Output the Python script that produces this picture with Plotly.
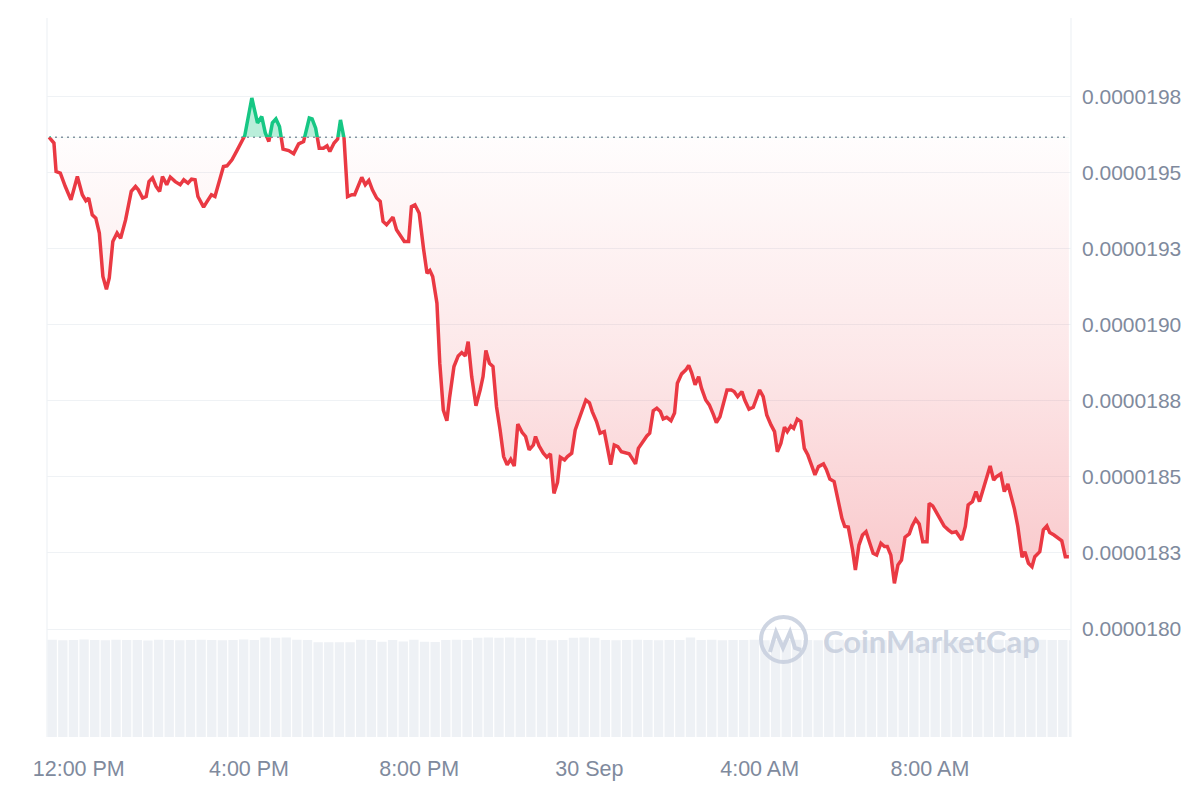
import pandas as pd
import plotly.graph_objects as go

# ---------------- data ----------------
# time of each price sample, in minutes after 12:00 PM on 29 Sep
minutes_after_noon = [
    -42, -35, -32, -26, -19, -11, -2, 5, 10, 14,
    19, 24, 29, 34, 39, 43, 48, 54, 59, 66,
    74, 80, 84, 90, 95, 99, 104, 109, 114, 118,
    124, 129, 136, 143, 148, 154, 159, 164, 168, 176,
    181, 187, 192, 198, 204, 209, 216, 223, 230, 234,
    244, 252, 258, 263, 268, 273, 278, 283, 288, 296,
    303, 310, 317, 325, 329, 334, 339, 345, 350, 354,
    360, 365, 369, 374, 379, 385, 389, 394, 399, 404,
    409, 414, 420, 425, 429, 434, 443, 448, 453, 459,
    465, 469, 474, 480, 486, 491, 495, 499, 505, 509,
    514, 519, 523, 529, 535, 540, 545, 549, 554, 560,
    566, 570, 574, 579, 584, 589, 594, 599, 604, 609,
    614, 619, 625, 630, 635, 641, 644, 649, 655, 660,
    665, 670, 675, 679, 685, 689, 695, 700, 705, 709,
    715, 720, 724, 730, 735, 741, 745, 750, 755, 760,
    765, 771, 776, 780, 785, 789, 795, 801, 805, 810,
    815, 820, 824, 829, 835, 840, 844, 850, 856, 860,
    864, 869, 874, 878, 884, 889, 895, 899, 904, 909,
    914, 920, 924, 929, 935, 939, 945, 951, 956, 960,
    965, 970, 976, 981, 985, 990, 995, 999, 1004, 1008,
    1013, 1018, 1023, 1028, 1033, 1038, 1043, 1050, 1054, 1059,
    1065, 1070, 1076, 1080, 1085, 1091, 1095, 1100, 1105, 1110,
    1115, 1120, 1125, 1131, 1136, 1140, 1145, 1150, 1155, 1160,
    1165, 1171, 1175, 1180, 1185, 1190, 1196, 1199, 1204, 1210,
    1214, 1220, 1226, 1231, 1237, 1240, 1245, 1250, 1254, 1260,
    1265, 1270, 1275, 1280, 1285, 1290, 1294, 1300, 1305, 1310,
    1314, 1319, 1324, 1330, 1334, 1339, 1344, 1348, 1355, 1360,
    1365, 1369, 1375, 1381, 1386, 1391, 1396,
]

# price in micro-USD (x 1e-6)
price_micro_usd = [
    19.617, 19.598, 19.504, 19.499, 19.455, 19.411, 19.488, 19.428, 19.408, 19.417,
    19.362, 19.351, 19.302, 19.159, 19.117, 19.154, 19.274, 19.302, 19.285, 19.345,
    19.439, 19.455, 19.444, 19.417, 19.422, 19.471, 19.483, 19.455, 19.439, 19.488,
    19.461, 19.486, 19.471, 19.461, 19.477, 19.466, 19.479, 19.477, 19.422, 19.387,
    19.406, 19.428, 19.422, 19.477, 19.521, 19.523, 19.543, 19.573, 19.608, 19.622,
    19.746, 19.664, 19.685, 19.631, 19.603, 19.664, 19.677, 19.652, 19.578, 19.573,
    19.563, 19.595, 19.603, 19.680, 19.677, 19.647, 19.581, 19.581, 19.589, 19.570,
    19.598, 19.611, 19.674, 19.614, 19.422, 19.428, 19.428, 19.455, 19.485, 19.461,
    19.475, 19.444, 19.417, 19.406, 19.340, 19.329, 19.354, 19.313, 19.293, 19.274,
    19.274, 19.389, 19.395, 19.367, 19.252, 19.170, 19.179, 19.159, 19.071, 18.874,
    18.720, 18.685, 18.764, 18.863, 18.898, 18.909, 18.898, 18.945, 18.830, 18.734,
    18.786, 18.830, 18.916, 18.874, 18.863, 18.731, 18.655, 18.567, 18.540, 18.558,
    18.536, 18.674, 18.647, 18.633, 18.589, 18.605, 18.633, 18.602, 18.578, 18.565,
    18.576, 18.446, 18.482, 18.565, 18.556, 18.567, 18.578, 18.655, 18.688, 18.715,
    18.753, 18.744, 18.715, 18.682, 18.644, 18.649, 18.600, 18.540, 18.605, 18.600,
    18.583, 18.578, 18.576, 18.562, 18.543, 18.594, 18.616, 18.635, 18.644, 18.718,
    18.726, 18.715, 18.691, 18.696, 18.685, 18.710, 18.808, 18.839, 18.852, 18.867,
    18.843, 18.803, 18.830, 18.792, 18.753, 18.737, 18.704, 18.679, 18.698, 18.748,
    18.786, 18.786, 18.781, 18.764, 18.781, 18.753, 18.723, 18.729, 18.764, 18.786,
    18.764, 18.704, 18.671, 18.649, 18.583, 18.611, 18.664, 18.649, 18.668, 18.660,
    18.690, 18.682, 18.594, 18.572, 18.540, 18.507, 18.534, 18.543, 18.525, 18.493,
    18.485, 18.424, 18.364, 18.337, 18.335, 18.260, 18.194, 18.276, 18.309, 18.320,
    18.282, 18.249, 18.243, 18.282, 18.271, 18.271, 18.243, 18.150, 18.211, 18.227,
    18.302, 18.313, 18.339, 18.361, 18.345, 18.287, 18.287, 18.413, 18.405, 18.381,
    18.364, 18.339, 18.326, 18.317, 18.320, 18.309, 18.293, 18.337, 18.408, 18.419,
    18.452, 18.419, 18.457, 18.503, 18.536, 18.490, 18.501, 18.510, 18.452, 18.477,
    18.441, 18.397, 18.337, 18.236, 18.254, 18.216, 18.205, 18.238, 18.254, 18.326,
    18.339, 18.317, 18.309, 18.298, 18.290, 18.238, 18.238,
]

# 15-minute volume bars (millions, relative), starting 11:15 AM
volume_m = [
    50.1, 49.9, 50.0, 50.2, 50.0, 49.9, 50.1, 50.0, 50.0, 49.8,
    50.1, 50.0, 49.9, 50.0, 50.1, 50.0, 49.9, 50.0, 50.2, 50.0,
    51.3, 51.2, 51.3, 50.1, 50.0, 48.9, 48.8, 48.8, 48.9, 50.1,
    50.0, 49.1, 50.0, 49.2, 50.1, 49.1, 49.0, 50.0, 50.1, 50.0,
    51.2, 51.3, 51.2, 51.3, 51.2, 51.1, 50.0, 49.9, 50.0, 51.2,
    51.3, 51.2, 50.0, 49.9, 50.0, 50.1, 50.0, 49.9, 50.0, 50.0,
    51.3, 50.0, 50.1, 49.9, 50.0, 50.0, 50.1, 49.9, 50.0, 50.0,
    50.1, 50.0, 49.9, 50.0, 50.1, 50.0, 50.0, 49.9, 50.0, 50.1,
    50.0, 49.9, 50.0, 50.0, 50.1, 50.0, 49.9, 50.0, 50.0, 50.1,
    50.0, 49.9, 50.0, 50.1, 50.0, 50.0, 49.9,
]

y_tick_values = [1.800e-5, 1.825e-5, 1.850e-5, 1.875e-5, 1.900e-5, 1.925e-5, 1.950e-5, 1.975e-5]
y_tick_labels = ["0.0000180", "0.0000183", "0.0000185", "0.0000188",
                 "0.0000190", "0.0000193", "0.0000195", "0.0000198"]
x_tick_times = ["2024-09-29 12:00", "2024-09-29 16:00", "2024-09-29 20:00",
                "2024-09-30 00:00", "2024-09-30 04:00", "2024-09-30 08:00"]
x_tick_labels = ["12:00 PM", "4:00 PM", "8:00 PM", "30 Sep", "4:00 AM", "8:00 AM"]

# ---------------- build ----------------
noon = pd.Timestamp("2024-09-29 12:00")
times = list(noon + pd.to_timedelta(minutes_after_noon, unit="min"))
price = [v * 1e-6 for v in price_micro_usd]
base = price[0]
vol_start = pd.Timestamp("2024-09-29 11:22:30")
vol_times = [vol_start + pd.Timedelta(minutes=15 * i) for i in range(len(volume_m))]

x_range = ["2024-09-29 11:15:12", "2024-09-30 11:19:00"]
y_lo, y_hi = 1.7645e-5, 2.0009e-5
f_base = (base - y_lo) / (y_hi - y_lo)

RED = "#ea3943"
GREEN = "#16c784"
TXT = "#808a9d"
GRID = "#eff2f5"
FONT = "Liberation Sans, Arial, sans-serif"

# the page body has an 8px margin: figure is 1192x792 placed at (8, 8)
OFF = 8
PL, PT, PW, PH = 47 - OFF, 18 - OFF, 1024, 719   # plot area in figure pixels
FIG_W, FIG_H = 1192, 792

fig = go.Figure()

# dotted reference line (opening price)
fig.add_trace(go.Scatter(x=[times[0], times[-1]], y=[base, base], mode="lines",
                         line=dict(color="#8a92a5", width=1.7, dash="2px,4px"),
                         hoverinfo="skip", showlegend=False, xaxis="x", yaxis="y"))

# red part (below opening price)
fig.add_trace(go.Scatter(x=[times[0], times[-1]], y=[base, base], mode="lines",
                         line=dict(width=0), hoverinfo="skip", showlegend=False,
                         xaxis="x", yaxis="y3"))
fig.add_trace(go.Scatter(x=times, y=price, mode="lines", fill="tonexty",
                         line=dict(color=RED, width=3.5),
                         fillgradient=dict(type="vertical", start=min(price), stop=base,
                                           colorscale=[[0, "rgba(234,57,67,0.28)"],
                                                       [0.5, "rgba(234,57,67,0.12)"],
                                                       [1, "rgba(234,57,67,0.01)"]]),
                         showlegend=False, xaxis="x", yaxis="y3"))

# green part (above opening price)
fig.add_trace(go.Scatter(x=[times[0], times[-1]], y=[base, base], mode="lines",
                         line=dict(width=0), hoverinfo="skip", showlegend=False,
                         xaxis="x", yaxis="y2"))
fig.add_trace(go.Scatter(x=times, y=price, mode="lines", fill="tonexty",
                         line=dict(color=GREEN, width=3.5),
                         fillcolor="rgba(22,199,132,0.30)",
                         showlegend=False, xaxis="x", yaxis="y2"))

# volume
fig.add_trace(go.Bar(x=vol_times, y=volume_m, marker=dict(color="#eef1f5", line=dict(width=0)),
                     showlegend=False, xaxis="x", yaxis="y4"))


def px(x, y):
    # screen pixel -> paper coordinates
    return (x - 47) / PW, (737 - y) / PH


# watermark logo
c0 = px(761, 662)
c1 = px(806, 617)
wm = "rgba(198,206,221,0.85)"
shapes = [
    dict(type="line", xref="paper", yref="paper", x0=0, x1=0, y0=0, y1=1,
         line=dict(color=GRID, width=1.2)),
    dict(type="line", xref="paper", yref="paper", x0=1, x1=1, y0=0, y1=1,
         line=dict(color=GRID, width=1.2)),
    dict(type="circle", xref="paper", yref="paper", x0=c0[0], y0=c0[1], x1=c1[0], y1=c1[1],
         line=dict(color=wm, width=4), layer="above"),
]
pts = [(770, 652), (776, 632), (783, 648), (790, 632), (795, 648), (801, 650)]
path = "M " + " L ".join(f"{px(a, b)[0]:.5f},{px(a, b)[1]:.5f}" for a, b in pts)
shapes.append(dict(type="path", xref="paper", yref="paper", path=path,
                   line=dict(color=wm, width=4), layer="above"))

fig.update_layout(
    width=FIG_W, height=FIG_H, autosize=False,
    margin=dict(l=PL, r=FIG_W - PL - PW, t=PT, b=FIG_H - PT - PH, pad=0),
    paper_bgcolor="white", plot_bgcolor="rgba(0,0,0,0)",
    font=dict(family=FONT, color=TXT),
    bargap=0.12,
    xaxis=dict(type="date", range=x_range, tickvals=x_tick_times, ticktext=x_tick_labels,
               showgrid=False, zeroline=False, showline=False, ticks="",
               tickfont=dict(size=21.5, color=TXT, family=FONT), ticklabelstandoff=16,
               fixedrange=True),
    yaxis=dict(side="right", range=[y_lo, y_hi], tickvals=y_tick_values, ticktext=y_tick_labels,
               showgrid=True, gridcolor=GRID, gridwidth=1.2, zeroline=False, showline=False,
               ticks="", tickfont=dict(size=21, color=TXT, family=FONT), ticklabelstandoff=10,
               anchor="x", fixedrange=True),
    yaxis2=dict(domain=[f_base, 1], range=[base, y_hi], visible=False, anchor="x", fixedrange=True),
    yaxis3=dict(domain=[0, f_base], range=[y_lo, base], visible=False, anchor="x", fixedrange=True),
    yaxis4=dict(domain=[0, 0.1403], range=[0, 52], visible=False, anchor="x", fixedrange=True),
    shapes=shapes,
    annotations=[dict(text="<b>CoinMarketCap</b>", xref="paper", yref="paper",
                      x=px(821, 641)[0], y=px(821, 641)[1], xanchor="left", yanchor="middle",
                      showarrow=False, font=dict(size=31, color=wm, family="Lato, Inter, sans-serif"))],
)

fig.write_html("out.html")
